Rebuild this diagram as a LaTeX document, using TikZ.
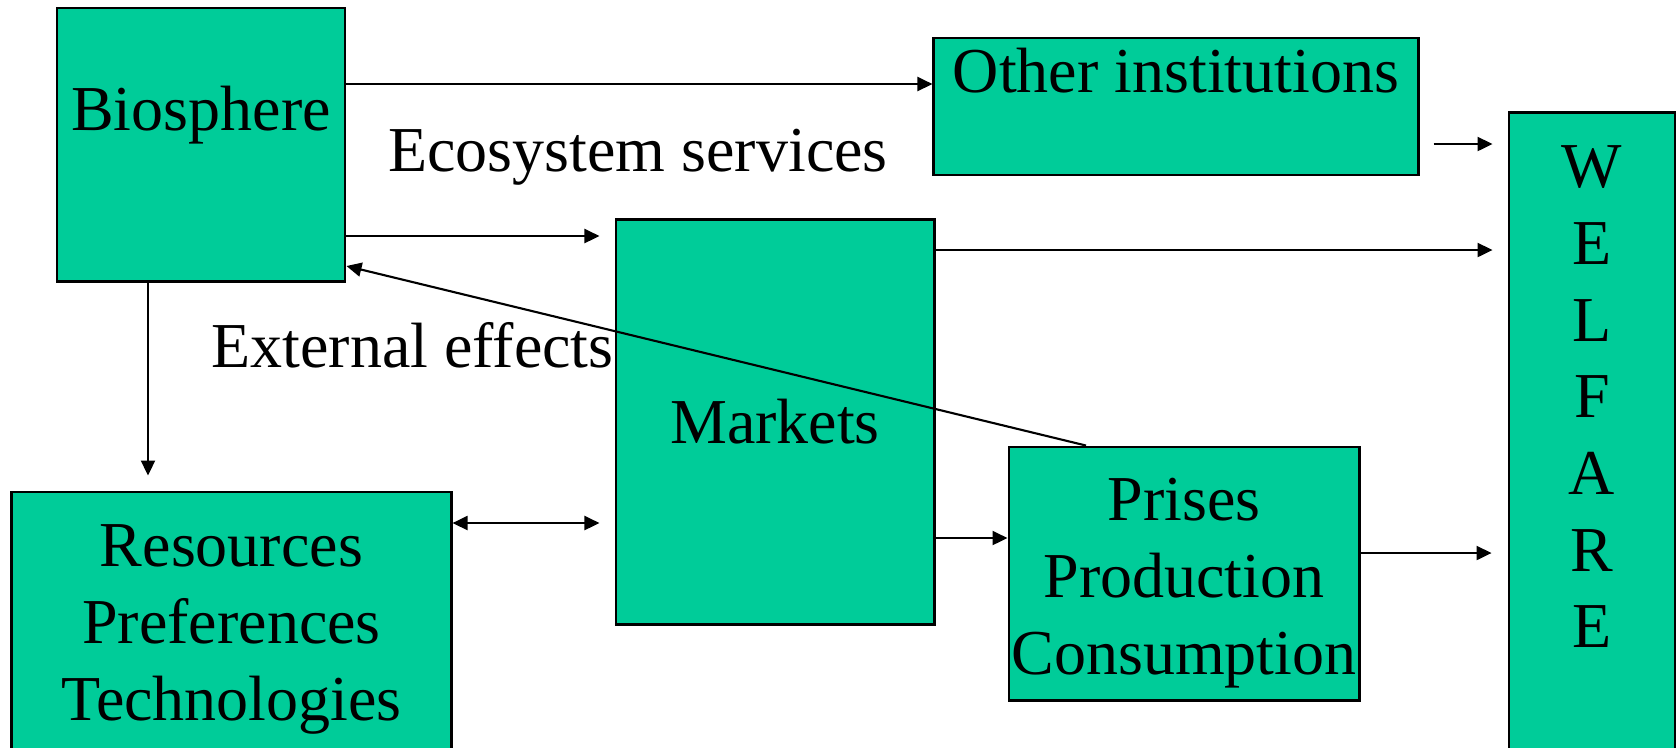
\documentclass[tikz,border=0pt]{standalone}
\usepackage{fontspec}
\setmainfont{Liberation Serif}
\usetikzlibrary{arrows.meta, positioning}
\definecolor{Panel}{RGB}{0, 204, 153}

\begin{document}
\begin{tikzpicture}[
        x=0.01cm, y=-0.01cm,
        line width=0.6pt,
        every node/.style={inner sep=0pt, font=\fontsize{18.2}{21.8}\selectfont},
        box/.style={draw, fill=Panel, line width=0.8pt, align=center},
        flow/.style={-{Triangle[length=0.15cm, width=0.14cm]}},
        biflow/.style={{Triangle[length=0.15cm, width=0.14cm]}-{Triangle[length=0.15cm, width=0.14cm]}}
    ]
        \useasboundingbox (0,0) rectangle (1677,747);
        \clip (0,0) rectangle (1677,747);

        % Biosphere
        \node[box, minimum width=2.88cm, minimum height=2.73cm] (bio) at (201,144.5) {};
        \node[anchor=base] (biotxt) at (201,130) {Biosphere};

        % Other institutions
        \node[box, minimum width=4.84cm, minimum height=1.37cm] (other) at (1176,106.5) {};
        \node[anchor=base] (othertxt) at (1176,92) {Other institutions};

        % Markets
        \node[box, minimum width=3.18cm, minimum height=4.04cm] (markets) at (775,422) {Markets};

        % Prises
        \node[box, minimum width=3.5cm, minimum height=2.53cm] (prises) at (1184,573.5) {};
        \node[align=center] (prisestxt) at (1184,583) {Prises\\Production\\Consumption};

        % Resources
        \node[box, minimum width=4.39cm, minimum height=2.75cm] (res) at (231.5,629.5) {Resources\\Preferences\\Technologies};

        % Welfare
        \node[box, minimum width=1.66cm, minimum height=6.87cm] (welfare) at (1592,456.5) {};
        \node[anchor=north, align=center] (welftxt) at (1592,145) {W\\E\\L\\F\\A\\R\\E};

        % Labels
        \node[anchor=base] (eco) at (638,171) {Ecosystem services};
        \node[anchor=base] (ext) at (412.5,367) {External effects};

        % Arrows
        \draw[flow] (bio.east |- 0,84) -- (other.west |- 0,84);
        \draw[flow, shorten >=0.15cm] (bio.east |- 0,236) -- (markets.west |- 0,236);
        \draw[flow] (prises.north -| 1086,0) -- (bio.east |- 0,266);
        \draw[flow, shorten >=0.15cm] (bio.south -| 148,0) -- (res.north -| 148,0);
        \draw[biflow, shorten >=0.15cm] (res.east |- 0,523) -- (markets.west |- 0,523);
        \draw[flow, shorten <=0.14cm, shorten >=0.15cm] (other.east |- 0,144) -- (welfare.west |- 0,144);
        \draw[flow, shorten >=0.15cm] (markets.east |- 0,250) -- (welfare.west |- 0,250);
        \draw[flow] (markets.east |- 0,538) -- (prises.west |- 0,538);
        \draw[flow, shorten >=0.16cm] (prises.east |- 0,553) -- (welfare.west |- 0,553);
    \end{tikzpicture}
\end{document}
